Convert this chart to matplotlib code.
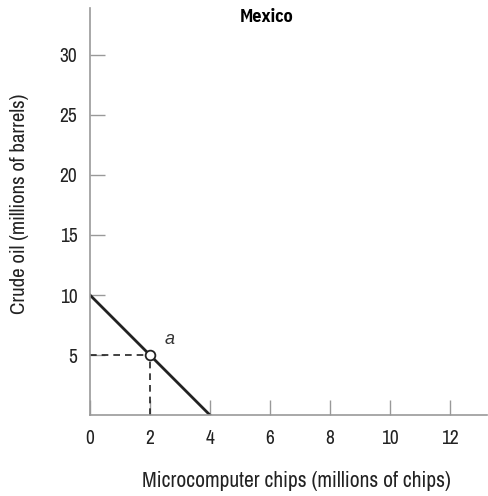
import matplotlib.pyplot as plt

plt.rcParams['font.family'] = ['Archivo Narrow', 'Liberation Sans', 'DejaVu Sans']

# production possibilities for Mexico
oil = [10, 0]
chips = [0, 4]
point_a = (2, 5)
xticks = [0, 2, 4, 6, 8, 10, 12]
yticks = [5, 10, 15, 20, 25, 30]

fig = plt.figure(figsize=(4.89, 4.96), dpi=100)
ax = fig.add_axes([0.184, 0.163, 0.812, 0.821])

ax.plot(chips, oil, color='#222222', lw=2)
ax.plot([0, point_a[0]], [point_a[1], point_a[1]], ls=(0, (4, 3)), color='#222222', lw=1.2)
ax.plot([point_a[0], point_a[0]], [0, point_a[1]], ls=(0, (4, 3)), color='#222222', lw=1.2)
ax.plot(*point_a, 'o', mfc='white', mec='#222222', ms=7, mew=1.3, zorder=5)
ax.text(2.5, 5.6, 'a', style='italic', fontsize=13, ha='left', va='bottom',
        family='Liberation Sans', color='#333333')

ax.set_xlim(0, 13.23)
ax.set_ylim(0, 33.9)
ax.set_xticks(xticks)
ax.set_yticks(yticks)
ax.tick_params(direction='in', length=11, width=1, color='#999999', labelsize=14,
               labelcolor='#222222', pad=9)
ax.tick_params(axis='x', pad=10)

for s in ['top', 'right']:
    ax.spines[s].set_visible(False)
for s in ['left', 'bottom']:
    ax.spines[s].set_color('#999999')
    ax.spines[s].set_linewidth(1.2)

ax.set_xlabel('Microcomputer chips (millions of chips)', fontsize=15.5, color='#222222')
ax.set_ylabel('Crude oil (millions of barrels)', fontsize=15, color='#222222')
ax.xaxis.set_label_coords(0.52, -0.138)
ax.yaxis.set_label_coords(-0.153, 0.52)
ax.set_title('Mexico', fontsize=13, fontweight='bold', y=0.945, x=0.445,
             family=['IBM Plex Sans Condensed', 'Liberation Sans'])

fig.savefig('out.png', dpi=100)
